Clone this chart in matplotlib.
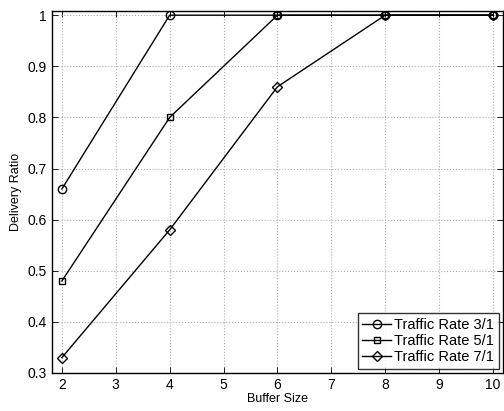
import matplotlib
matplotlib.use("Agg")
import matplotlib.pyplot as plt

buffer_size = [2, 4, 6, 8, 10]
rate_3_1 = [0.66, 1.0, 1.0, 1.0, 1.0]
rate_5_1 = [0.48, 0.80, 1.0, 1.0, 1.0]
rate_7_1 = [0.33, 0.58, 0.86, 1.0, 1.0]
labels = ["Traffic Rate 3/1", "Traffic Rate 5/1", "Traffic Rate 7/1"]
xticks = [2, 3, 4, 5, 6, 7, 8, 9, 10]
yticks = [0.3, 0.4, 0.5, 0.6, 0.7, 0.8, 0.9, 1.0]
yticklabels = ["0.3", "0.4", "0.5", "0.6", "0.7", "0.8", "0.9", "1"]

plt.rcParams['font.family'] = ['Liberation Sans', 'DejaVu Sans']

fig = plt.figure(figsize=(5.04, 4.11), dpi=100)
ax = fig.add_axes([0.103, 0.0925, 0.895, 0.8805])

common = dict(color='black', linewidth=1.0, markerfacecolor='none',
              markeredgecolor='black', markeredgewidth=1.0)
ax.plot(buffer_size, rate_3_1, marker='o', markersize=6, label=labels[0], **common)
ax.plot(buffer_size, rate_5_1, marker='s', markersize=5, label=labels[1], **common)
ax.plot(buffer_size, rate_7_1, marker='D', markersize=5, label=labels[2], **common)

ax.set_xlim(1.815, 10.185)
ax.set_ylim(0.3, 1.008)
ax.set_xticks(xticks)
ax.set_yticks(yticks)
ax.set_yticklabels(yticklabels)
ax.tick_params(direction='in', top=True, right=True, labelsize=10, length=4, width=0.6)
ax.grid(True, linestyle=':', color='#b0b0b0', linewidth=0.8)
for s in ax.spines.values():
    s.set_linewidth(1.0)

ax.set_xlabel("Buffer Size", fontsize=9, labelpad=1)
ax.set_ylabel("Delivery Ratio", fontsize=9, labelpad=4)

leg = ax.legend(loc='lower right', fontsize=10.5, frameon=True, fancybox=False,
                edgecolor='black', handlelength=2.0, handletextpad=0.2,
                borderpad=0.3, labelspacing=0.15, borderaxespad=0.3)
leg.get_frame().set_linewidth(1.0)

fig.savefig("out.png", dpi=100)
